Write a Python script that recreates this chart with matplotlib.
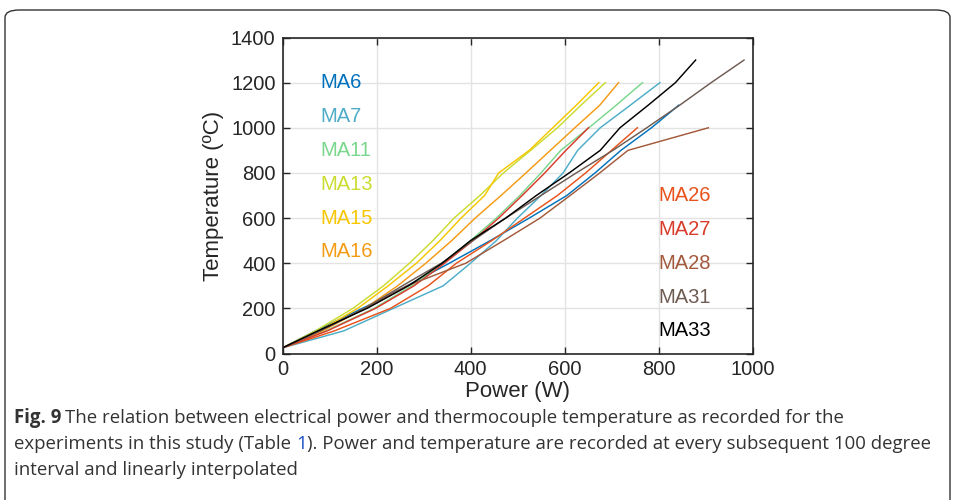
import matplotlib.pyplot as plt
from matplotlib.patches import FancyBboxPatch

plt.rcParams['font.family'] = ['Liberation Sans', 'DejaVu Sans']

# Temperature steps (recorded every 100 degrees), start at ~25 C
temps = [25, 100, 200, 300, 400, 500, 600, 700, 800, 900, 1000, 1100, 1200, 1300]

# Power (W) at each temperature step, per experiment
ma6 = [0, 70, 170, 265, 355, 442, 525, 605, 665, 720, 785, 843]
ma7 = [0, 130, 236, 342, 400, 455, 500, 550, 597, 628, 676, 740, 803]
ma11 = [0, 92, 195, 275, 340, 400, 455, 505, 550, 592, 652, 710, 766]
ma13 = [0, 70, 150, 215, 270, 320, 365, 420, 470, 528, 585, 635, 687]
ma15 = [0, 78, 160, 225, 285, 335, 380, 430, 460, 525, 575, 625, 673]
ma16 = [0, 85, 175, 245, 305, 360, 410, 465, 518, 570, 622, 675, 715]
ma26 = [0, 110, 230, 310, 370, 445, 515, 585, 645, 700, 755]
ma27 = [0, 95, 198, 280, 345, 405, 460, 510, 558, 603, 651]
ma28 = [0, 80, 175, 265, 390, 470, 548, 612, 675, 735, 906]
ma31 = [0, 80, 175, 255, 338, 405, 475, 550, 625, 703, 775, 845, 912, 982]
ma33 = [0, 75, 180, 268, 340, 400, 475, 540, 610, 676, 718, 778, 836, 879]

names = ['MA6', 'MA7', 'MA11', 'MA13', 'MA15', 'MA16',
         'MA26', 'MA27', 'MA28', 'MA31', 'MA33']
series = [ma6, ma7, ma11, ma13, ma15, ma16, ma26, ma27, ma28, ma31, ma33]
colors = ['#0072BD', '#4DADC8', '#7AD68C', '#CADC2E', '#F7C600', '#F59A14',
          '#E8521B', '#D83B2B', '#A35A3C', '#6E5B52', '#000000']

# label positions (power, temperature)
label_x = [80] * 6 + [800] * 5
label_y = [1200, 1050, 900, 750, 600, 450, 700, 550, 400, 250, 100]

fig = plt.figure(figsize=(9.56, 5.0), dpi=100)

# rounded frame around figure + caption
frame = FancyBboxPatch((5 / 956, -0.05), 945 / 956, 1.03,
                       boxstyle='round,pad=0,rounding_size=0.015',
                       transform=fig.transFigure, facecolor='none',
                       edgecolor='#333333', linewidth=1.0)
fig.patches.append(frame)

ax = fig.add_axes([282.5 / 956, 1 - 353.5 / 500, 470 / 956, 316 / 500])

for w, c in zip(series, colors):
    ax.plot(w, temps[:len(w)], color=c, linewidth=1.05)

for n, c, x, y in zip(names, colors, label_x, label_y):
    ax.text(x, y, n, color=c, fontsize=14.5, va='center', ha='left')

ax.set_xlim(0, 1000)
ax.set_ylim(0, 1400)
ax.set_xticks(range(0, 1001, 200))
ax.set_yticks(range(0, 1401, 200))
ax.grid(True, color='#e3e3e3', linewidth=1.0)
ax.set_axisbelow(True)
ax.tick_params(direction='in', top=True, right=True, labelsize=14.5,
               colors='#262626', length=5, width=1, pad=5)
for s in ax.spines.values():
    s.set_color('#262626')
    s.set_linewidth(1.2)
ax.set_xlabel('Power (W)', fontsize=16, color='#262626', labelpad=1)
ax.set_ylabel('Temperature (ºC)', fontsize=16, color='#262626', labelpad=5)

# caption
cap_kw = dict(fontsize=13.4, color='#333333', family='Open Sans',
              transform=fig.transFigure, va='baseline')
y1, y2, y3 = 1 - 423 / 500, 1 - 449 / 500, 1 - 475 / 500
bold = fig.text(14 / 956, y1, 'Fig. 9', fontweight='bold', **cap_kw)
fig.canvas.draw()
bb = bold.get_window_extent()
fig.text((bb.x1 + 4) / 956, y1,
         'The relation between electrical power and thermocouple temperature as recorded for the',
         **cap_kw)
t1 = fig.text(14 / 956, y2, 'experiments in this study (Table ', **cap_kw)
fig.canvas.draw()
bb = t1.get_window_extent()
one = fig.text(bb.x1 / 956, y2, '1', **dict(cap_kw, color='#1a4fc4'))
fig.canvas.draw()
bb = one.get_window_extent()
fig.text(bb.x1 / 956, y2,
         '). Power and temperature are recorded at every subsequent 100 degree',
         **cap_kw)
fig.text(14 / 956, y3, 'interval and linearly interpolated', **cap_kw)

fig.savefig('out.png', dpi=100)
